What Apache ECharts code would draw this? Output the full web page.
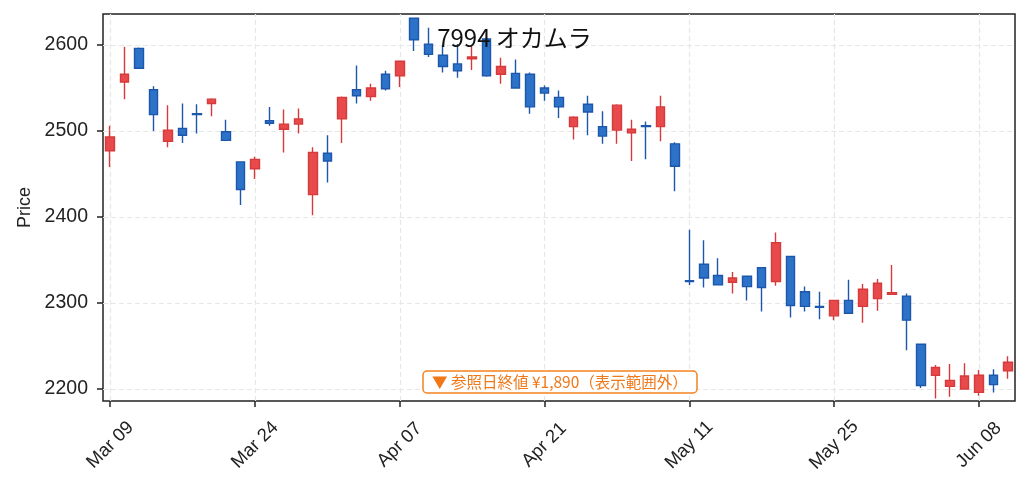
<!DOCTYPE html>
<html>
<head>
<meta charset="utf-8">
<script src="https://cdn.jsdelivr.net/npm/echarts@6/dist/echarts.min.js"></script>
<style>
  html, body { margin: 0; padding: 0; background: #fff; }
  #chart { width: 1029px; height: 491px; }
</style>
</head>
<body>
<div id="chart"></div>
<script>
var dates = ['Mar 09', 'Mar 10', 'Mar 11', 'Mar 12', 'Mar 13', 'Mar 16', 'Mar 17', 'Mar 18', 'Mar 19', 'Mar 23',
    'Mar 24', 'Mar 25', 'Mar 26', 'Mar 27', 'Mar 30', 'Mar 31', 'Apr 01', 'Apr 02', 'Apr 03', 'Apr 06',
    'Apr 07', 'Apr 08', 'Apr 09', 'Apr 10', 'Apr 13', 'Apr 14', 'Apr 15', 'Apr 16', 'Apr 17', 'Apr 20',
    'Apr 21', 'Apr 22', 'Apr 23', 'Apr 24', 'Apr 27', 'Apr 28', 'Apr 30', 'May 01', 'May 07', 'May 08',
    'May 11', 'May 12', 'May 13', 'May 14', 'May 15', 'May 18', 'May 19', 'May 20', 'May 21', 'May 22',
    'May 25', 'May 26', 'May 27', 'May 28', 'May 29', 'Jun 01', 'Jun 02', 'Jun 03', 'Jun 04', 'Jun 05',
    'Jun 08', 'Jun 09', 'Jun 10'];

var opens = [2477, 2557, 2596, 2548, 2488, 2503, 2520, 2532, 2499, 2464,
    2456, 2512, 2502, 2508, 2426, 2474, 2514, 2548, 2540, 2566,
    2564, 2631, 2601, 2588, 2578, 2584, 2607, 2566, 2567, 2566,
    2550, 2539, 2505, 2531, 2505, 2501, 2498, 2506, 2505, 2485,
    2326, 2345, 2332, 2324, 2331, 2341, 2325, 2354, 2313, 2296,
    2285, 2303, 2296, 2305, 2310, 2308, 2252, 2216, 2203, 2200,
    2196, 2216, 2221];
var closes = [2493, 2566, 2573, 2519, 2501, 2495, 2519, 2537, 2489, 2432,
    2467, 2509, 2508, 2514, 2475, 2465, 2539, 2541, 2550, 2549,
    2581, 2606, 2589, 2575, 2570, 2586, 2564, 2575, 2550, 2528,
    2544, 2528, 2516, 2522, 2494, 2530, 2502, 2505, 2528, 2459,
    2325, 2329, 2321, 2329, 2319, 2318, 2370, 2297, 2296, 2295,
    2303, 2288, 2316, 2323, 2312, 2280, 2204, 2225, 2210, 2215,
    2216, 2205, 2231];
var lows = [2458, 2537, 2573, 2500, 2481, 2486, 2497, 2517, 2489, 2414,
    2444, 2506, 2475, 2497, 2402, 2440, 2486, 2532, 2535, 2547,
    2551, 2593, 2586, 2568, 2562, 2571, 2563, 2555, 2550, 2520,
    2535, 2515, 2490, 2495, 2485, 2485, 2465, 2467, 2488, 2430,
    2321, 2318, 2321, 2311, 2303, 2290, 2320, 2283, 2290, 2281,
    2280, 2288, 2277, 2291, 2310, 2245, 2201, 2189, 2191, 2200,
    2192, 2196, 2212];
var highs = [2506, 2598, 2597, 2552, 2530, 2532, 2531, 2538, 2513, 2464,
    2470, 2528, 2525, 2526, 2481, 2495, 2540, 2576, 2555, 2570,
    2582, 2632, 2620, 2599, 2601, 2599, 2609, 2585, 2583, 2568,
    2553, 2547, 2517, 2541, 2523, 2531, 2513, 2511, 2541, 2487,
    2385, 2373, 2352, 2336, 2331, 2341, 2382, 2355, 2319, 2313,
    2303, 2327, 2322, 2328, 2344, 2311, 2252, 2228, 2229, 2230,
    2222, 2223, 2238];

var priceTicks = [2200, 2300, 2400, 2500, 2600];
var dateTicks = ['Mar 09', 'Mar 24', 'Apr 07', 'Apr 21', 'May 11', 'May 25', 'Jun 08'];

var chartTitle = '7994 オカムラ';
var noteText = '▼ 参照日終値 ¥1,890（表示範囲外）';

var cjkFont = '"Noto Sans CJK JP", "Liberation Sans", sans-serif';
var tickFont = '"Liberation Sans", "Noto Sans CJK JP", sans-serif';

var candles = [];
for (var i = 0; i < dates.length; i++) {
    candles.push([opens[i], closes[i], lows[i], highs[i]]);
}

var gridStyle = {
    color: '#e6e6e6',
    width: 1.2,
    type: [5, 3]
};

var chart = echarts.init(document.getElementById('chart'));

var option = {
    backgroundColor: '#fff',
    animation: false,
    title: [{
        text: chartTitle,
        left: 'center',
        top: 21,
        textStyle: {
            fontFamily: cjkFont,
            fontSize: 24,
            fontWeight: 'normal',
            color: '#111'
        }
    }, {
        text: noteText,
        left: 423,
        top: 371,
        padding: [3, 9],
        backgroundColor: '#fff',
        borderColor: '#f5821f',
        borderWidth: 1.5,
        borderRadius: 4,
        textStyle: {
            fontFamily: cjkFont,
            fontSize: 15.5,
            fontWeight: 'normal',
            color: '#f07818',
            lineHeight: 16
        }
    }],
    grid: {
        left: 103,
        right: 14,
        top: 14,
        bottom: 90,
        show: true,
        borderColor: '#222',
        borderWidth: 1.5,
        backgroundColor: 'transparent'
    },
    xAxis: {
        type: 'category',
        data: dates,
        boundaryGap: true,
        axisLine: { show: false },
        axisTick: {
            show: true,
            alignWithLabel: true,
            interval: 9,
            length: 6,
            lineStyle: { color: '#222', width: 1.5 }
        },
        axisLabel: {
            interval: 9,
            rotate: 45,
            align: 'center',
            verticalAlign: 'middle',
            margin: 44,
            fontFamily: tickFont,
            fontSize: 18.5,
            color: '#222'
        },
        splitLine: { show: false }
    },
    yAxis: {
        type: 'value',
        min: 2186,
        max: 2636,
        name: 'Price',
        nameLocation: 'middle',
        nameGap: 69,
        nameTextStyle: {
            fontFamily: tickFont,
            fontSize: 18,
            color: '#222'
        },
        axisLine: { show: false },
        axisTick: {
            show: true,
            length: 6,
            customValues: priceTicks,
            lineStyle: { color: '#222', width: 1.5 }
        },
        axisLabel: {
            customValues: priceTicks,
            margin: 15,
            fontFamily: tickFont,
            fontSize: 19.5,
            color: '#222',
            formatter: function (v) { return String(v); }
        },
        splitLine: { show: false }
    },
    series: [{
        name: 'grid',
        type: 'line',
        data: [],
        silent: true,
        markLine: {
            z: 1,
            silent: true,
            symbol: 'none',
            label: { show: false },
            lineStyle: gridStyle,
            data: dateTicks.map(function (d) { return { xAxis: d }; })
                .concat(priceTicks.map(function (v) { return { yAxis: v }; }))
        }
    }, {
        name: '7994',
        type: 'candlestick',
        z: 3,
        barWidth: 9,
        data: candles,
        itemStyle: {
            color: '#e84a4b',
            color0: '#2c72c9',
            borderColor: '#d63a3a',
            borderColor0: '#1c57ab',
            borderWidth: 1.4
        }
    }]
};

chart.setOption(option);
</script>
</body>
</html>
